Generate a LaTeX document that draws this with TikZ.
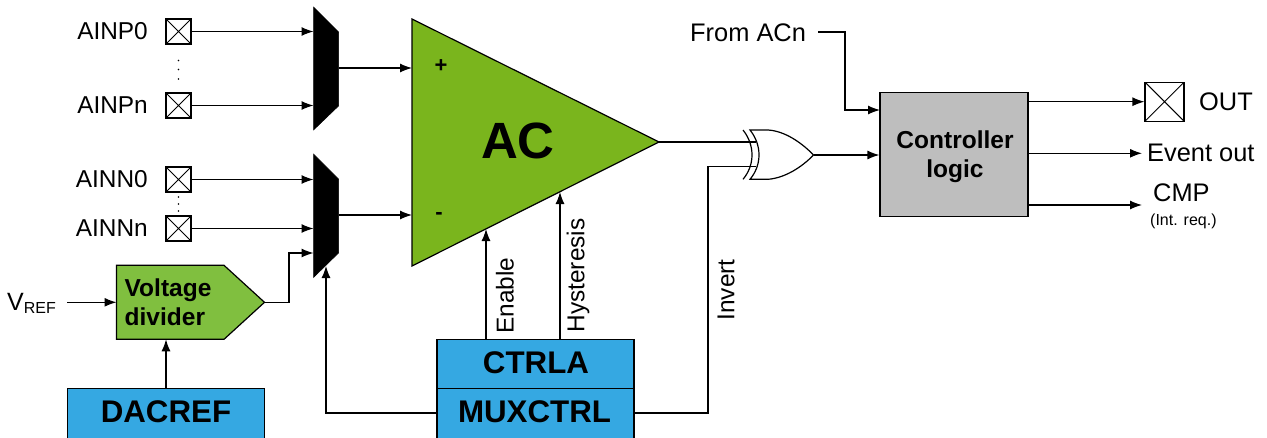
\documentclass[tikz,border=0pt]{standalone}
\usepackage{fontspec}
\setmainfont{Liberation Sans}
\usetikzlibrary{arrows.meta}
\definecolor{acgreen}{HTML}{7AB51D}
\definecolor{vdgreen}{HTML}{80BF3F}
\definecolor{regblue}{HTML}{35A8E2}
\definecolor{logicgray}{HTML}{BEBEBE}
\tikzset{
  wire/.style={line width=1.2pt,draw=black,line join=miter},
  sig/.style={wire,-{Latex[length=12pt,width=9pt]}},
  pad/.style={draw=black,line width=1.2pt,fill=white,minimum size=#1,inner sep=0pt,
    path picture={\draw[line width=1pt] (path picture bounding box.north west)--(path picture bounding box.south east)
      (path picture bounding box.north east)--(path picture bounding box.south west);}},
  pad/.default=25pt,
  lbl/.style={inner sep=0pt,font=\fontsize{24.4}{28}\selectfont},
  lblr/.style={inner sep=0pt,font=\fontsize{25.4}{29}\selectfont},
  reg/.style={draw=black,line width=1.2pt,fill=regblue,inner sep=0pt,minimum width=197pt,minimum height=#1},
  reg/.default=49.4pt,
  regtxt/.style={inner sep=0pt,font=\fontsize{31.3}{36}\selectfont\bfseries},
  boldtxt/.style={inner sep=0pt,align=left,font=\fontsize{24.5}{29}\selectfont\bfseries},
  dot/.style={circle,fill=black,inner sep=0pt,minimum size=1.8pt},
  muxshape/.style={fill=black,draw=black,line width=0.5pt,line join=miter},
}
\begin{document}
\begin{tikzpicture}[x=1pt,y=-1pt]
\useasboundingbox (0,0) rectangle (1267,437);
\clip (0,0) rectangle (1267,437);
% amplifier
\coordinate (acA) at (412,19);
\coordinate (acB) at (412,266);
\coordinate (acT) at (659,142);
\draw[wire,fill=acgreen] (acA)--(acT)--(acB)--cycle;
\node[inner sep=0pt,font=\fontsize{51}{56}\selectfont\bfseries] (ac) at (518,141) {AC};
\node[inner sep=0pt,font=\fontsize{22}{26}\selectfont\bfseries] (plus) at (441,66) {+};
\node[inner sep=0pt,font=\fontsize{22}{26}\selectfont\bfseries] (minus) at (439,216) {-};
\coordinate (acP) at (412,68);
\coordinate (acM) at (412,215);
\coordinate (acEn) at (486,229);
\coordinate (acHy) at (560,192);
% muxes
\draw[muxshape] (313.5,7)--(338.5,32)--(338.5,106)--(313.5,130)--cycle;
\draw[muxshape] (313.5,154)--(338.5,179)--(338.5,253)--(313.5,277.5)--cycle;
\coordinate (m1a) at (313.5,31.5);
\coordinate (m1b) at (313.5,105.5);
\coordinate (m1o) at (338.5,68);
\coordinate (m2a) at (313.5,179.5);
\coordinate (m2b) at (313.5,228.5);
\coordinate (m2c) at (313.5,253);
\coordinate (m2o) at (338.5,215);
\coordinate (m2s) at (326,266);
% pads and their labels
\node[pad] (p0) at (178.5,31.5) {};
\node[pad] (pn) at (178.5,105.5) {};
\node[pad] (n0) at (178.5,179.5) {};
\node[pad] (nn) at (178.5,228.5) {};
\node[lbl,anchor=east] (lp0) at (148,31) {AINP0};
\node[lbl,anchor=east] (lpn) at (148,105) {AINPn};
\node[lbl,anchor=east] (ln0) at (148,179) {AINN0};
\node[lbl,anchor=east] (lnn) at (148,228) {AINNn};
\foreach \n/\y in {a/60.5,b/69.5,c/79,d/197,e/204,f/211}{\node[dot] (d\n) at (178.5,\y) {};}
\draw[sig] (p0.east)--(m1a);
\draw[sig] (pn.east)--(m1b);
\draw[sig] (n0.east)--(m2a);
\draw[sig] (nn.east)--(m2b);
\draw[sig] (m1o)--(acP);
\draw[sig] (m2o)--(acM);
% voltage divider
\coordinate (vdW) at (116.5,302.3);
\coordinate (vdS) at (166,339.3);
\coordinate (vdT) at (264.5,302.3);
\draw[wire,fill=vdgreen] (116.5,265.3)--(224,265.3)--(vdT)--(224,339.3)--(116.5,339.3)--cycle;
\node[boldtxt,anchor=west] (vdtxt) at (124.5,302) {Voltage\\divider};
\node[inner sep=0pt,font=\fontsize{25}{29}\selectfont,anchor=west] (vref) at (7,303) {V\raisebox{-3pt}{\fontsize{16}{18}\selectfont REF}};
\coordinate (vrefo) at (67,302.3);
\draw[sig] (vrefo)--(vdW);
\draw[sig] (vdT)-|(289,253)--(m2c);
% registers
\node[reg=56pt] (dacref) at (166,416.7) {};
\node[regtxt] (dacreft) at (166,412) {DACREF};
\node[reg] (ctrla) at (535.5,364) {};
\node[regtxt] (ctrlat) at (536,363) {CTRLA};
\node[reg=56pt] (muxctrl) at (535.5,416.7) {};
\node[regtxt] (muxctrlt) at (534.5,412) {MUXCTRL};
\draw[sig] (dacref.north-|vdS)--(vdS);
\draw[sig] (muxctrl.west|-0,413)-|(m2s);
\draw[sig] (ctrla.north-|acEn)--(acEn);
\draw[sig] (ctrla.north-|acHy)--(acHy);
\node[lbl,rotate=90] (len) at (505,295.5) {Enable};
\node[lbl,rotate=90] (lhy) at (578,275.5) {Hysteresis};
\node[lbl,rotate=90] (lin) at (726,290) {Invert};
% xor gate
\coordinate (xi1) at (755.5,142);
\coordinate (xi2) at (756,166.7);
\coordinate (xo) at (813.5,155);
\draw[wire,fill=white] (750,130)--(768,130) .. controls (785,131) and (802,143) .. (xo)
  .. controls (802,167) and (785,178) .. (768,179.3)--(750,179.3)
  .. controls (762,165) and (762,145) .. cycle;
\draw[wire] (743,130) .. controls (755,145) and (755,165) .. (743,179.3);
\draw[wire] (acT)--(xi1);
\draw[wire] (muxctrl.east|-0,413)-|(708,166.7)--(xi2);
% controller
\node[draw=black,line width=1.2pt,fill=logicgray,minimum width=148pt,minimum height=124pt,inner sep=0pt] (ctl) at (954,154.3) {};
\node[boldtxt,align=center] (ctltxt) at (955,157) {Controller\\logic};
\draw[sig] (xo)--(xo-|ctl.west);
\node[lblr,anchor=west] (from) at (690,32.5) {From ACn};
\coordinate (fromo) at (818,32);
\draw[sig] (fromo)-|(845,110)--(880,110);
% outputs
\node[pad=39pt] (out) at (1164.5,101.7) {};
\node[lblr,anchor=west] (lout) at (1199,101.5) {OUT};
\node[lblr,anchor=west] (lev) at (1147,152.5) {Event out};
\node[lblr,anchor=west] (lcmp) at (1153,192.5) {CMP};
\node[inner sep=0pt,anchor=west,font=\fontsize{16}{19}\selectfont] (lint) at (1150,221) {(Int. req.)};
\coordinate (evo) at (1142,153.3);
\coordinate (cmpo) at (1142,205);
\draw[sig] (ctl.east|-out)--(out.west);
\draw[sig] (ctl.east|-evo)--(evo);
\draw[sig] (ctl.east|-cmpo)--(cmpo);
\end{tikzpicture}
\end{document}
